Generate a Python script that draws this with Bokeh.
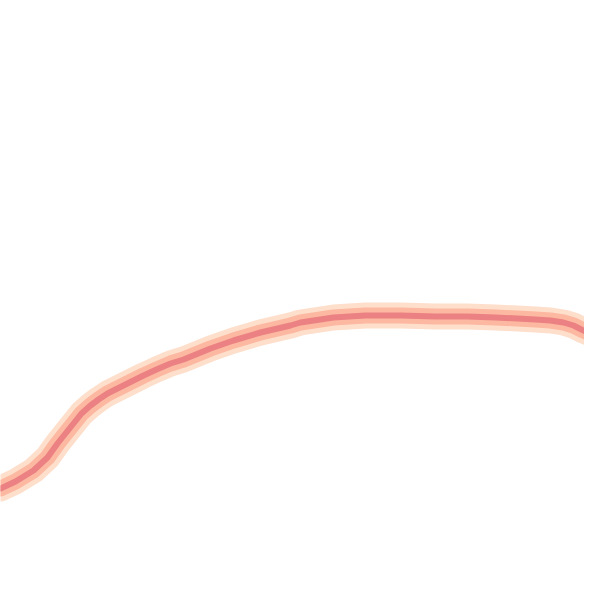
from bokeh.plotting import figure
from bokeh.models import Range1d
from bokeh.embed import file_html
from bokeh.resources import INLINE

# curve (x position, height above bottom)
xs = [0, 15, 33, 47, 57, 65, 73, 81, 90, 98, 107, 115, 123, 133, 143, 156, 170, 183,
      210, 233, 260, 290, 300, 333, 365, 400, 435, 467, 495, 517, 535, 550, 563, 573,
      583, 590, 600]
ys = [112, 119, 130, 143, 157, 167, 177, 187, 195, 201, 207, 211, 215, 220, 225, 231,
      237, 241, 252, 260, 268, 275, 278, 283, 285, 285, 284, 284, 283, 282, 281, 280,
      278, 275, 270, 267, 262]

p = figure(width=584, height=584, output_backend="svg", toolbar_location=None,
           x_range=Range1d(0, 584), y_range=Range1d(16, 600), min_border=0)
p.axis.visible = False
p.grid.visible = False
p.outline_line_color = None
p.background_fill_color = "white"
p.border_fill_color = "white"

p.line(xs, ys, line_width=26, line_color="#FEDFCC", line_join="round", line_cap="round")
p.line(xs, ys, line_width=16, line_color="#FCB8A0", line_join="round", line_cap="round")
p.line(xs, ys, line_width=6, line_color="#EB8183", line_join="round", line_cap="round")

open("out.html", "w").write(file_html(p, INLINE))
